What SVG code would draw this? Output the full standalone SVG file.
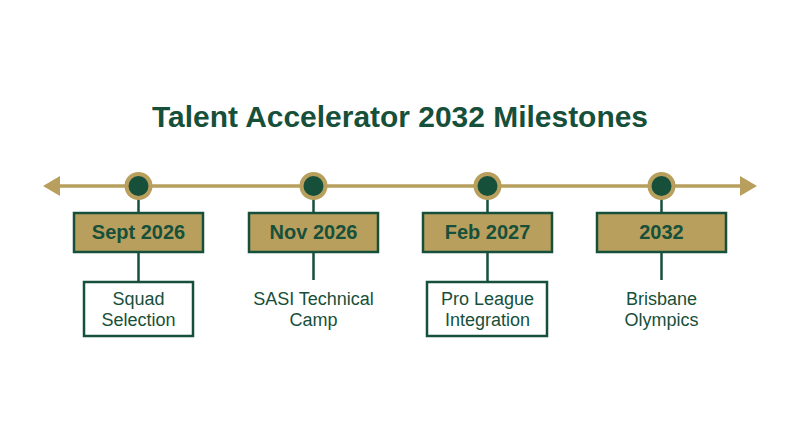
<svg xmlns="http://www.w3.org/2000/svg" width="800" height="447" viewBox="0 0 800 447">
<defs>
<style>
.title{font-family:"Liberation Sans",Arial,sans-serif;font-weight:bold;font-size:29px;fill:#17503A;text-anchor:middle}
.date{font-family:"Liberation Sans",Arial,sans-serif;font-weight:bold;font-size:20px;fill:#17503A;text-anchor:middle}
.desc{font-family:"Liberation Sans",Arial,sans-serif;font-size:18px;fill:#17503A;text-anchor:middle}
.dbox{fill:#B89F5E;stroke:#17503A;stroke-width:2.5}
.lbox{fill:#FFFFFF;stroke:#17503A;stroke-width:2.5}
.ring{fill:#17503A;stroke:#B89F5E;stroke-width:4}
.stem{stroke:#17503A;stroke-width:2.5;fill:none}
.axis{stroke:#B89F5E;stroke-width:3.5;fill:none}
.head{fill:#B89F5E}
</style>
</defs>
<rect width="800" height="447" fill="#FFFFFF"/>
<text class="title" x="400" y="127" textLength="496" lengthAdjust="spacingAndGlyphs">Talent Accelerator 2032 Milestones</text>
<g id="connectors">
<line class="axis" x1="56" y1="186" x2="744" y2="186"/>
<polygon class="head" points="43,186 60,176 60,196"/>
<polygon class="head" points="757,186 740,176 740,196"/>
<line class="stem" x1="138.5" y1="198" x2="138.5" y2="213"/>
<line class="stem" x1="138.5" y1="252" x2="138.5" y2="282"/>
<line class="stem" x1="313.5" y1="198" x2="313.5" y2="213"/>
<line class="stem" x1="313.5" y1="252" x2="313.5" y2="280"/>
<line class="stem" x1="487.5" y1="198" x2="487.5" y2="213"/>
<line class="stem" x1="487.5" y1="252" x2="487.5" y2="282"/>
<line class="stem" x1="661.5" y1="198" x2="661.5" y2="213"/>
<line class="stem" x1="661.5" y1="252" x2="661.5" y2="280"/>
</g>
<g id="m1">
<circle class="ring" cx="138.5" cy="186" r="12"/>
<rect class="dbox" x="74" y="213" width="129" height="39"/>
<text class="date" x="138.5" y="239">Sept 2026</text>
<rect class="lbox" x="84" y="282" width="109" height="54"/>
<text class="desc" x="138.5" y="305">Squad</text>
<text class="desc" x="138.5" y="326">Selection</text>
</g>
<g id="m2">
<circle class="ring" cx="313.5" cy="186" r="12"/>
<rect class="dbox" x="249" y="213" width="129" height="39"/>
<text class="date" x="313.5" y="239">Nov 2026</text>
<text class="desc" x="313.5" y="305">SASI Technical</text>
<text class="desc" x="313.5" y="326">Camp</text>
</g>
<g id="m3">
<circle class="ring" cx="487.5" cy="186" r="12"/>
<rect class="dbox" x="423" y="213" width="129" height="39"/>
<text class="date" x="487.5" y="239">Feb 2027</text>
<rect class="lbox" x="427" y="282" width="120" height="54"/>
<text class="desc" x="487.5" y="305">Pro League</text>
<text class="desc" x="487.5" y="326">Integration</text>
</g>
<g id="m4">
<circle class="ring" cx="661.5" cy="186" r="12"/>
<rect class="dbox" x="597" y="213" width="129" height="39"/>
<text class="date" x="661.5" y="239">2032</text>
<text class="desc" x="661.5" y="305">Brisbane</text>
<text class="desc" x="661.5" y="326">Olympics</text>
</g>
</svg>
